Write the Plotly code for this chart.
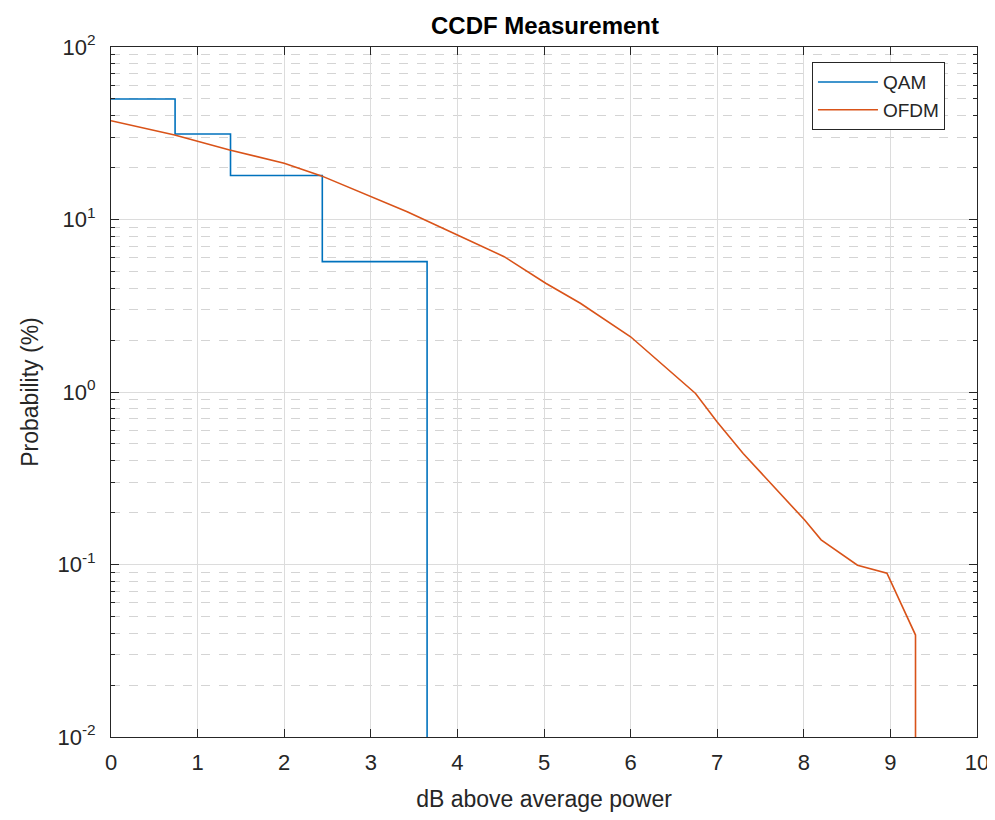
import plotly.graph_objects as go

# QAM staircase (dB above average power, probability %)
qam_x = [0, 0.74, 1.38, 2.44, 3.65]
qam_y = [50.0, 31.3, 18.0, 5.7, 0.001]

# OFDM curve
ofdm_x = [0, 0.735, 1.37, 2.0, 2.43, 3.0, 3.42, 4.0, 4.54, 5.02, 5.42, 6.0, 6.11,
          6.75, 7.0, 7.3, 8.01, 8.2, 8.62, 8.96, 9.29, 9.29]
ofdm_y = [37.4, 30.9, 25.3, 21.2, 17.9, 13.6, 11.1, 8.13, 6.09, 4.27, 3.27, 2.09, 1.87,
          0.98, 0.67, 0.44, 0.181, 0.139, 0.099, 0.089, 0.039, 0.001]

ytick_vals = [0.01, 0.1, 1, 10, 100]
ytick_text = ['10<sup>-2</sup>', '10<sup>-1</sup>', '10<sup>0</sup>', '10<sup>1</sup>', '10<sup>2</sup>']

fnt = "Liberation Sans, Arial, sans-serif"
axcol = "#262626"

fig = go.Figure()
fig.add_trace(go.Scatter(x=qam_x, y=qam_y, mode='lines', name='QAM', line_shape='hv',
                         line=dict(color='#0072BD', width=1.6)))
fig.add_trace(go.Scatter(x=ofdm_x, y=ofdm_y, mode='lines', name='OFDM',
                         line=dict(color='#D95319', width=1.6)))

fig.update_layout(
    width=995, height=820,
    margin=dict(l=103, r=26, t=39, b=91),
    paper_bgcolor='white', plot_bgcolor='white',
    font=dict(family=fnt, color=axcol),
    title=dict(text='<b>CCDF Measurement</b>', x=0.5397, xanchor='center', y=0.979, yanchor='middle',
               font=dict(size=24, color='black', family=fnt)),
    legend=dict(x=0.963, y=0.978, xanchor='right', yanchor='top', bgcolor='white',
                bordercolor=axcol, borderwidth=1, font=dict(size=19, family=fnt),
                itemwidth=60, tracegroupgap=0),
    showlegend=True,
)

fig.update_xaxes(range=[0, 10], dtick=1, ticks='inside', ticklen=8, tickcolor=axcol,
                 showline=True, linecolor=axcol, linewidth=1, mirror='ticks',
                 showgrid=True, gridcolor='#dcdcdc', gridwidth=1, zeroline=False,
                 ticklabelstandoff=6,
                 tickfont=dict(size=22, family=fnt, color=axcol),
                 title=dict(text='dB above average power', font=dict(size=23, family=fnt, color=axcol), standoff=16))

fig.update_yaxes(type='log', range=[-2, 2], tickvals=ytick_vals, ticktext=ytick_text,
                 ticks='inside', ticklen=8, tickcolor=axcol,
                 showline=True, linecolor=axcol, linewidth=1, mirror='ticks',
                 showgrid=True, gridcolor='#dcdcdc', gridwidth=1, zeroline=False,
                 minor=dict(dtick='D1', ticks='inside', ticklen=4, tickcolor=axcol,
                            showgrid=True, gridcolor='#d4d4d4', griddash='dash', gridwidth=1),
                 ticklabelstandoff=10,
                 tickfont=dict(size=22, family=fnt, color=axcol),
                 title=dict(text='Probability (%)', font=dict(size=23, family=fnt, color=axcol), standoff=12))

fig.write_html("out.html")
